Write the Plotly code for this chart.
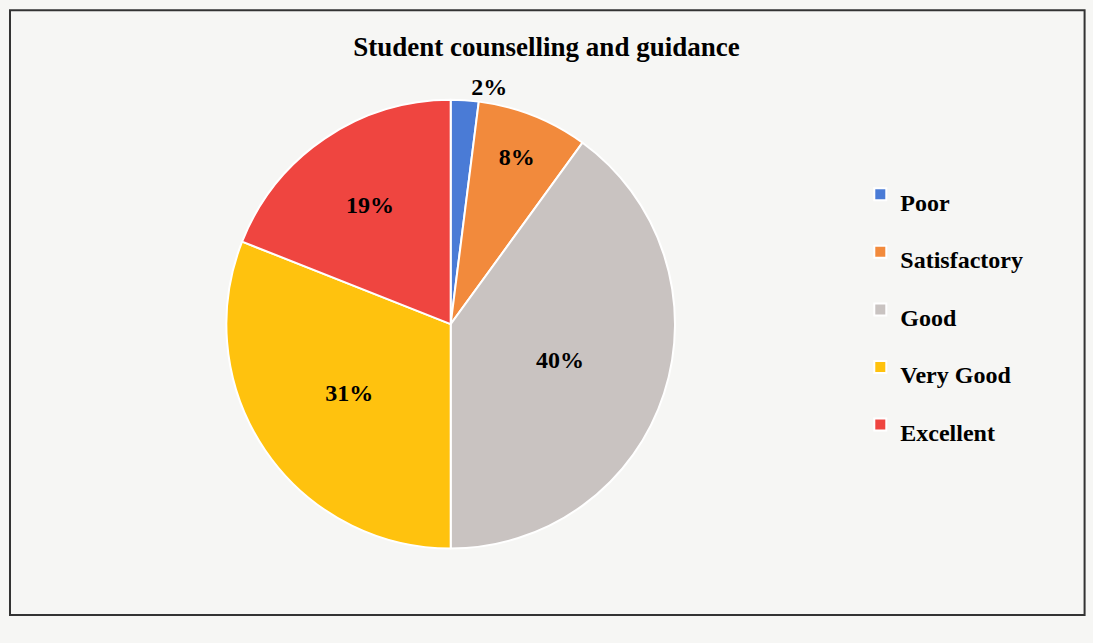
import plotly.graph_objects as go

categories = ["Poor", "Satisfactory", "Good", "Very Good", "Excellent"]
values = [2, 8, 40, 31, 19]
colors = ["#4a7bd6", "#f28a3c", "#c9c3c1", "#ffc20e", "#ef4540"]
text_positions = ["outside", "inside", "inside", "inside", "inside"]

serif = "Liberation Serif, Times New Roman, serif"

fig = go.Figure(
    go.Pie(
        labels=[f'<span style="font-size:24px"><b>{c}</b></span>' for c in categories],
        values=values,
        sort=False,
        direction="clockwise",
        rotation=0,
        marker=dict(colors=colors, line=dict(color="white", width=2)),
        texttemplate="<b>%{value}%</b>",
        textposition=text_positions,
        textfont=dict(family=serif, size=24, color="black"),
        insidetextorientation="horizontal",
        hoverinfo="label+percent",
        domain=dict(x=[0.079, 0.739], y=[0.07, 0.98]),
        showlegend=True,
    )
)

fig.update_layout(
    width=1093,
    height=643,
    autosize=False,
    paper_bgcolor="#f6f6f4",
    plot_bgcolor="#f6f6f4",
    margin=dict(l=20, r=20, t=90, b=60, autoexpand=False),
    title=dict(
        text="<b>Student counselling and guidance</b>",
        x=0.5,
        xanchor="center",
        y=0.927,
        yanchor="middle",
        font=dict(family=serif, size=27, color="black"),
    ),
    legend=dict(
        x=0.798,
        xanchor="left",
        y=0.555,
        yanchor="middle",
        font=dict(family=serif, size=42, color="black"),
        bgcolor="rgba(0,0,0,0)",
    ),
    shapes=[
        dict(
            type="rect", xref="paper", yref="paper",
            x0=-0.0095, x1=1.011, y0=-0.065, y1=1.162,
            line=dict(color="#333333", width=2), fillcolor="rgba(0,0,0,0)",
        )
    ],
)

fig.write_html(
    "out.html",
    config={"displayModeBar": False},
    post_script="document.body.style.margin='0';document.body.style.overflow='hidden';",
)
